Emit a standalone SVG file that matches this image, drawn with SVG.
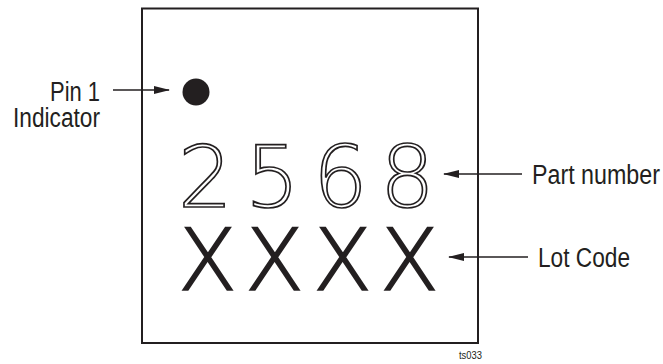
<svg xmlns="http://www.w3.org/2000/svg" width="663" height="364" viewBox="0 0 663 364">
<style>
.lbl{font-family:"Liberation Sans",Arial,sans-serif;font-size:27px;fill:#231f20}
.big{font-family:"DejaVu Sans",sans-serif;font-weight:200;font-size:86px}
.cn{stroke:#231f20;stroke-width:1.3;fill:none}
</style>
<defs>
<marker id="ah" markerWidth="16" markerHeight="8" refX="15" refY="4" orient="auto" markerUnits="userSpaceOnUse">
<path d="M0,0 L16,4 L0,8 Z" fill="#231f20"/>
</marker>
</defs>
<g id="chip">
<rect x="142" y="8.5" width="336" height="334.5" fill="#fff" stroke="#231f20" stroke-width="2"/>
</g>
<g id="pin1-dot">
<circle cx="196" cy="92" r="13.5" fill="#231f20"/>
</g>
<g id="part-number">
<text class="big" x="178 245 313 380" y="207" fill="#fff" stroke="#231f20" stroke-width="1.7">2568</text>
</g>
<g id="lot-code">
<text class="big" x="178 245 313 380" y="290" fill="#231f20" stroke="#231f20" stroke-width="1.6">XXXX</text>
</g>
<g id="connectors">
<line class="cn" x1="113" y1="90" x2="169" y2="90" marker-end="url(#ah)"/>
<line class="cn" x1="522" y1="174" x2="444" y2="174" marker-end="url(#ah)"/>
<line class="cn" x1="528" y1="257" x2="449" y2="257" marker-end="url(#ah)"/>
</g>
<g id="labels">
<text class="lbl" x="50" y="101" textLength="50" lengthAdjust="spacingAndGlyphs">Pin 1</text>
<text class="lbl" x="13" y="127" textLength="87" lengthAdjust="spacingAndGlyphs">Indicator</text>
<text class="lbl" x="532" y="184" textLength="128" lengthAdjust="spacingAndGlyphs">Part number</text>
<text class="lbl" x="538" y="267" textLength="92" lengthAdjust="spacingAndGlyphs">Lot Code</text>
<text x="459" y="359" textLength="23" lengthAdjust="spacingAndGlyphs" style="font-family:'Liberation Sans',Arial,sans-serif;font-size:11px;fill:#231f20">ts033</text>
</g>
</svg>
